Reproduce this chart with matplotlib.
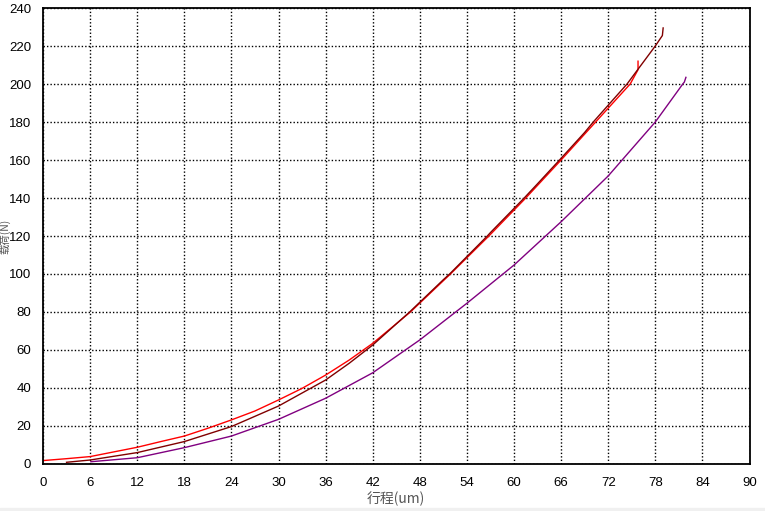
import matplotlib
matplotlib.use("Agg")
import matplotlib.pyplot as plt
from matplotlib.patches import Rectangle

plt.rcParams["font.family"] = ["Liberation Sans", "Noto Sans CJK SC", "DejaVu Sans"]

# stroke (um) vs load (N)
red_x = [0, 3, 6, 12, 15, 18, 21, 24, 27, 30, 33, 36, 39, 42, 46.8, 51.9,
         56.8, 61.5, 66.0, 70.4, 74.8, 75.8, 75.8]
red_y = [1.8, 2.8, 3.9, 8.8, 11.8, 14.7, 18.8, 23.2, 27.9, 33.7, 39.8, 46.8, 54.7,
         63.5, 80, 100, 120, 140, 160, 180, 200, 207.5, 212]

dark_x = [3.0, 6, 12, 18, 24, 30, 36, 39, 42, 46.7, 51.0, 51.8, 56.6, 57.0,
          61.3, 63.0, 65.8, 69.0, 70.1, 74.4, 78.0, 78.9, 79.0]
dark_y = [0.9, 2.1, 6.0, 11.8, 19.7, 30.5, 44.2, 53, 62.6, 80, 97, 100, 120,
          121.8, 140, 147.5, 160, 174.5, 180, 200, 220, 225.5, 229.5]

purple_x = [6.1, 12, 18, 24, 30, 36, 42, 48, 54, 60, 66, 72, 78,
            81.5, 81.7, 81.9]
purple_y = [1.2, 3.3, 8.6, 14.7, 23.5, 34.6, 48, 65.3, 84.6, 104.7, 127.5,
            151.6, 180, 200, 201, 203.5]

x_ticks = list(range(0, 91, 6))
y_ticks = list(range(0, 241, 20))

fig = plt.figure(figsize=(7.65, 5.11), dpi=100)
ax = fig.add_axes([43 / 765, 1 - 464 / 511, (749.5 - 43) / 765, (464 - 8) / 511])

ax.plot(red_x, red_y, color="#ff0000", lw=1.0)
ax.plot(purple_x, purple_y, color="#800080", lw=1.0)
ax.plot(dark_x, dark_y, color="#800000", lw=1.0)

ax.set_xlim(0, 90)
ax.set_ylim(0, 240)
ax.set_xticks(x_ticks)
ax.set_yticks(y_ticks)
ax.tick_params(length=0, labelsize=9.5, pad=9)
ax.tick_params(axis="y", pad=8.5)
ax.grid(True, color="black", linestyle=(0, (1, 1.5)), linewidth=1.0)
for s in ax.spines.values():
    s.set_linewidth(1.3)
    s.set_color("black")

cjk = ["Noto Sans CJK SC", "Liberation Sans"]
ax.set_xlabel("行程(um)", fontsize=10, color="#555555", family=cjk, labelpad=2)
ax.set_ylabel("载荷(N)", fontsize=7.5, color="#555555", family=cjk)
ax.yaxis.set_label_coords(-0.0455, 0.5)

fig.patches.append(Rectangle((0, 0), 1, 3 / 511, transform=fig.transFigure,
                             color="#f0f0f0", zorder=-1))

fig.savefig("out.png", dpi=100)
